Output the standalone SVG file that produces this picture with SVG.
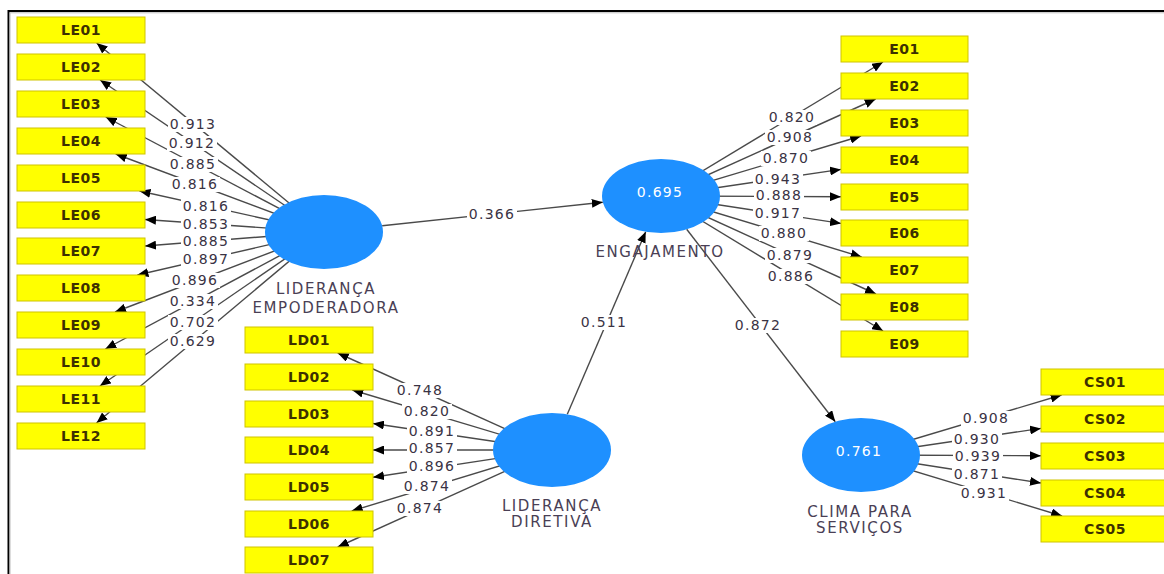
<svg xmlns="http://www.w3.org/2000/svg" width="1164" height="574" viewBox="0 0 1164 574">
<defs>
<marker id="arr" markerUnits="userSpaceOnUse" markerWidth="11" markerHeight="9" refX="11" refY="4.5" orient="auto"><path d="M0,0 L11,4.5 L0,9 z" fill="#000"/></marker>
<style>
.ln{stroke:#4a4a4a;stroke-width:1.4;fill:none;marker-end:url(#arr)}
.bg{fill:#fff}
.lbl{font-family:"DejaVu Sans",sans-serif;font-size:14px;letter-spacing:1.3px;fill:#3a3344;text-anchor:middle}
.box{fill:#ffff00;stroke:#cfc400;stroke-width:1}
.bt{font-family:"DejaVu Sans",sans-serif;font-size:14px;font-weight:bold;letter-spacing:0.5px;fill:#3d3000;text-anchor:middle}
.lv{fill:#1e90ff}
.lvt{font-family:"DejaVu Sans",sans-serif;font-size:15px;letter-spacing:1.6px;fill:#4a3f55;text-anchor:middle}
.r2{font-family:"DejaVu Sans",sans-serif;font-size:14px;letter-spacing:1.3px;fill:#fff;text-anchor:middle}
</style>
</defs>
<rect width="1164" height="574" fill="#fff"/>
<path d="M8.5,574 V11 H1164" fill="none" stroke="#000" stroke-width="2"/>
<path d="M10,574 V12.8 H1164" fill="none" stroke="#bbb" stroke-width="1"/>
<g id="connectors">
<line class="ln" x1="324" y1="232" x2="96.6" y2="43"/>
<line class="ln" x1="324" y1="232" x2="100.1" y2="80"/>
<line class="ln" x1="324" y1="232" x2="105.7" y2="117"/>
<line class="ln" x1="324" y1="232" x2="115.7" y2="154"/>
<line class="ln" x1="324" y1="232" x2="139.5" y2="191"/>
<line class="ln" x1="324" y1="232" x2="145" y2="219.5"/>
<line class="ln" x1="324" y1="232" x2="145" y2="246"/>
<line class="ln" x1="324" y1="232" x2="137.4" y2="275"/>
<line class="ln" x1="324" y1="232" x2="115" y2="312"/>
<line class="ln" x1="324" y1="232" x2="105.3" y2="349"/>
<line class="ln" x1="324" y1="232" x2="99.9" y2="386"/>
<line class="ln" x1="324" y1="232" x2="96.5" y2="423"/>
<line class="ln" x1="552" y1="450" x2="337.7" y2="353"/>
<line class="ln" x1="552" y1="450" x2="352.3" y2="390"/>
<line class="ln" x1="552" y1="450" x2="373" y2="423.5"/>
<line class="ln" x1="552" y1="450" x2="373" y2="450"/>
<line class="ln" x1="552" y1="450" x2="373" y2="477.3"/>
<line class="ln" x1="552" y1="450" x2="351.7" y2="511"/>
<line class="ln" x1="552" y1="450" x2="337.7" y2="547"/>
<line class="ln" x1="661" y1="196" x2="883" y2="62"/>
<line class="ln" x1="661" y1="196" x2="875.7" y2="99"/>
<line class="ln" x1="661" y1="196" x2="861.1" y2="136"/>
<line class="ln" x1="661" y1="196" x2="841" y2="169.4"/>
<line class="ln" x1="661" y1="196" x2="841" y2="196.7"/>
<line class="ln" x1="661" y1="196" x2="841" y2="223.4"/>
<line class="ln" x1="661" y1="196" x2="861.7" y2="257"/>
<line class="ln" x1="661" y1="196" x2="876" y2="294"/>
<line class="ln" x1="661" y1="196" x2="883.1" y2="331"/>
<line class="ln" x1="861" y1="455" x2="1061.6" y2="395"/>
<line class="ln" x1="861" y1="455" x2="1041" y2="428.4"/>
<line class="ln" x1="861" y1="455" x2="1041" y2="455.7"/>
<line class="ln" x1="861" y1="455" x2="1041" y2="483"/>
<line class="ln" x1="861" y1="455" x2="1062.1" y2="516"/>
<line class="ln" x1="382.2" y1="225.8" x2="602.8" y2="202.2"/>
<line class="ln" x1="567.3" y1="414.3" x2="645.7" y2="231.7"/>
<line class="ln" x1="686.7" y1="229.3" x2="835.3" y2="421.7"/>
<g class="bg">
<rect x="168" y="117" width="50" height="15"/><rect x="167" y="136" width="50" height="15"/><rect x="168" y="157" width="50" height="15"/><rect x="170" y="177" width="50" height="15"/>
<rect x="181" y="199" width="50" height="15"/><rect x="181" y="217" width="50" height="15"/><rect x="181" y="234" width="50" height="15"/><rect x="181" y="252" width="50" height="15"/>
<rect x="170" y="273" width="50" height="15"/><rect x="168" y="294" width="50" height="15"/><rect x="168" y="315" width="50" height="15"/><rect x="168" y="334" width="50" height="15"/>
<rect x="395" y="383" width="50" height="15"/><rect x="402" y="404" width="50" height="15"/><rect x="407" y="424" width="50" height="15"/><rect x="407" y="441" width="50" height="15"/>
<rect x="407" y="459" width="50" height="15"/><rect x="402" y="479" width="50" height="15"/><rect x="395" y="501" width="50" height="15"/>
<rect x="767" y="110" width="50" height="15"/><rect x="765" y="130" width="50" height="15"/><rect x="761" y="151" width="50" height="15"/><rect x="753" y="172" width="50" height="15"/>
<rect x="754" y="188" width="50" height="15"/><rect x="753" y="206" width="50" height="15"/><rect x="759" y="226" width="50" height="15"/><rect x="765" y="248" width="50" height="15"/><rect x="766" y="269" width="50" height="15"/>
<rect x="961" y="411" width="50" height="15"/><rect x="952" y="432" width="50" height="15"/><rect x="953" y="449" width="50" height="15"/><rect x="952" y="467" width="50" height="15"/><rect x="959" y="486" width="50" height="15"/>
<rect x="467" y="207" width="50" height="15"/><rect x="579" y="315" width="50" height="15"/><rect x="733" y="318" width="50" height="15"/>
</g>
<text class="lbl" x="193" y="129">0.913</text>
<text class="lbl" x="192" y="148">0.912</text>
<text class="lbl" x="193" y="169">0.885</text>
<text class="lbl" x="195" y="189">0.816</text>
<text class="lbl" x="206" y="211">0.816</text>
<text class="lbl" x="206" y="229">0.853</text>
<text class="lbl" x="206" y="246">0.885</text>
<text class="lbl" x="206" y="264">0.897</text>
<text class="lbl" x="195" y="285">0.896</text>
<text class="lbl" x="193" y="306">0.334</text>
<text class="lbl" x="193" y="327">0.702</text>
<text class="lbl" x="193" y="346">0.629</text>
<text class="lbl" x="420" y="395">0.748</text>
<text class="lbl" x="427" y="416">0.820</text>
<text class="lbl" x="432" y="436">0.891</text>
<text class="lbl" x="432" y="453">0.857</text>
<text class="lbl" x="432" y="471">0.896</text>
<text class="lbl" x="427" y="491">0.874</text>
<text class="lbl" x="420" y="513">0.874</text>
<text class="lbl" x="792" y="122">0.820</text>
<text class="lbl" x="790" y="142">0.908</text>
<text class="lbl" x="786" y="163">0.870</text>
<text class="lbl" x="778" y="184">0.943</text>
<text class="lbl" x="779" y="200">0.888</text>
<text class="lbl" x="778" y="218">0.917</text>
<text class="lbl" x="784" y="238">0.880</text>
<text class="lbl" x="790" y="260">0.879</text>
<text class="lbl" x="791" y="281">0.886</text>
<text class="lbl" x="986" y="423">0.908</text>
<text class="lbl" x="977" y="444">0.930</text>
<text class="lbl" x="978" y="461">0.939</text>
<text class="lbl" x="977" y="479">0.871</text>
<text class="lbl" x="984" y="498">0.931</text>
<text class="lbl" x="492" y="219">0.366</text>
<text class="lbl" x="604" y="327">0.511</text>
<text class="lbl" x="758" y="330">0.872</text>
</g>
<g id="LE"><ellipse class="lv" cx="324" cy="232" rx="59" ry="37"/><text class="lvt" x="326" y="294">LIDERANÇA</text><text class="lvt" x="326" y="313">EMPODERADORA</text></g>
<g id="ENG"><ellipse class="lv" cx="661" cy="196" rx="59" ry="37"/><text class="r2" x="660" y="197">0.695</text><text class="lvt" x="660" y="257">ENGAJAMENTO</text></g>
<g id="LD"><ellipse class="lv" cx="552" cy="450" rx="59" ry="37"/><text class="lvt" x="552" y="511">LIDERANÇA</text><text class="lvt" x="552" y="527">DIRETIVA</text></g>
<g id="CS"><ellipse class="lv" cx="861" cy="455" rx="59" ry="37"/><text class="r2" x="859" y="456">0.761</text><text class="lvt" x="860" y="517">CLIMA PARA</text><text class="lvt" x="860" y="533">SERVIÇOS</text></g>
<g id="LE01"><rect class="box" x="17" y="17" width="128" height="26"/><text class="bt" x="81" y="35">LE01</text></g>
<g id="LE02"><rect class="box" x="17" y="54" width="128" height="26"/><text class="bt" x="81" y="72">LE02</text></g>
<g id="LE03"><rect class="box" x="17" y="91" width="128" height="26"/><text class="bt" x="81" y="109">LE03</text></g>
<g id="LE04"><rect class="box" x="17" y="128" width="128" height="26"/><text class="bt" x="81" y="146">LE04</text></g>
<g id="LE05"><rect class="box" x="17" y="165" width="128" height="26"/><text class="bt" x="81" y="183">LE05</text></g>
<g id="LE06"><rect class="box" x="17" y="202" width="128" height="26"/><text class="bt" x="81" y="220">LE06</text></g>
<g id="LE07"><rect class="box" x="17" y="238" width="128" height="26"/><text class="bt" x="81" y="256">LE07</text></g>
<g id="LE08"><rect class="box" x="17" y="275" width="128" height="26"/><text class="bt" x="81" y="293">LE08</text></g>
<g id="LE09"><rect class="box" x="17" y="312" width="128" height="26"/><text class="bt" x="81" y="330">LE09</text></g>
<g id="LE10"><rect class="box" x="17" y="349" width="128" height="26"/><text class="bt" x="81" y="367">LE10</text></g>
<g id="LE11"><rect class="box" x="17" y="386" width="128" height="26"/><text class="bt" x="81" y="404">LE11</text></g>
<g id="LE12"><rect class="box" x="17" y="423" width="128" height="26"/><text class="bt" x="81" y="441">LE12</text></g>
<g id="LD01"><rect class="box" x="245" y="327" width="128" height="26"/><text class="bt" x="309" y="345">LD01</text></g>
<g id="LD02"><rect class="box" x="245" y="364" width="128" height="26"/><text class="bt" x="309" y="382">LD02</text></g>
<g id="LD03"><rect class="box" x="245" y="401" width="128" height="26"/><text class="bt" x="309" y="419">LD03</text></g>
<g id="LD04"><rect class="box" x="245" y="437" width="128" height="26"/><text class="bt" x="309" y="455">LD04</text></g>
<g id="LD05"><rect class="box" x="245" y="474" width="128" height="26"/><text class="bt" x="309" y="492">LD05</text></g>
<g id="LD06"><rect class="box" x="245" y="511" width="128" height="26"/><text class="bt" x="309" y="529">LD06</text></g>
<g id="LD07"><rect class="box" x="245" y="547" width="128" height="26"/><text class="bt" x="309" y="565">LD07</text></g>
<g id="E01"><rect class="box" x="841" y="36" width="127" height="26"/><text class="bt" x="904.5" y="54">E01</text></g>
<g id="E02"><rect class="box" x="841" y="73" width="127" height="26"/><text class="bt" x="904.5" y="91">E02</text></g>
<g id="E03"><rect class="box" x="841" y="110" width="127" height="26"/><text class="bt" x="904.5" y="128">E03</text></g>
<g id="E04"><rect class="box" x="841" y="147" width="127" height="26"/><text class="bt" x="904.5" y="165">E04</text></g>
<g id="E05"><rect class="box" x="841" y="184" width="127" height="26"/><text class="bt" x="904.5" y="202">E05</text></g>
<g id="E06"><rect class="box" x="841" y="220" width="127" height="26"/><text class="bt" x="904.5" y="238">E06</text></g>
<g id="E07"><rect class="box" x="841" y="257" width="127" height="26"/><text class="bt" x="904.5" y="275">E07</text></g>
<g id="E08"><rect class="box" x="841" y="294" width="127" height="26"/><text class="bt" x="904.5" y="312">E08</text></g>
<g id="E09"><rect class="box" x="841" y="331" width="127" height="26"/><text class="bt" x="904.5" y="349">E09</text></g>
<g id="CS01"><rect class="box" x="1041" y="369" width="128" height="26"/><text class="bt" x="1105" y="387">CS01</text></g>
<g id="CS02"><rect class="box" x="1041" y="406" width="128" height="26"/><text class="bt" x="1105" y="424">CS02</text></g>
<g id="CS03"><rect class="box" x="1041" y="443" width="128" height="26"/><text class="bt" x="1105" y="461">CS03</text></g>
<g id="CS04"><rect class="box" x="1041" y="480" width="128" height="26"/><text class="bt" x="1105" y="498">CS04</text></g>
<g id="CS05"><rect class="box" x="1041" y="516" width="128" height="26"/><text class="bt" x="1105" y="534">CS05</text></g>
</svg>
